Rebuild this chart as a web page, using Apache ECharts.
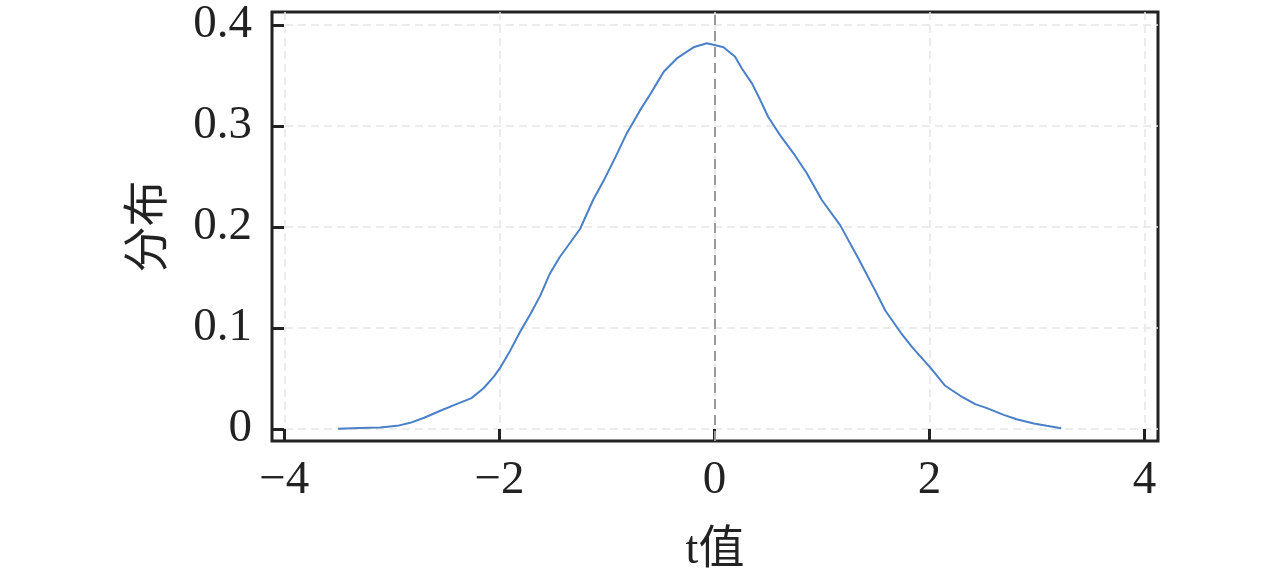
<!DOCTYPE html>
<html>
<head>
<meta charset="utf-8">
<script src="https://cdn.jsdelivr.net/npm/echarts@6/dist/echarts.min.js"></script>
<style>html,body{margin:0;padding:0;background:#fff}#c{width:1280px;height:576px}</style>
</head>
<body>
<div id="c"></div>
<script>
const tValues = [-3.50,-3.30,-3.11,-2.95,-2.83,-2.70,-2.55,-2.40,-2.26,-2.15,-2.05,-1.99,-1.90,-1.81,-1.71,-1.62,-1.53,-1.44,-1.25,-1.13,-1.03,-0.92,-0.815,-0.77,-0.69,-0.60,-0.51,-0.47,-0.35,-0.195,-0.07,-0.01,0.084,0.19,0.255,0.35,0.425,0.50,0.61,0.735,0.86,1.00,1.17,1.34,1.495,1.59,1.73,1.84,2.006,2.146,2.286,2.425,2.534,2.69,2.81,2.97,3.09,3.225];
const density = [0.0002,0.001,0.0013,0.003,0.006,0.011,0.018,0.0245,0.0305,0.040,0.052,0.061,0.0775,0.0957,0.114,0.132,0.154,0.170,0.198,0.2265,0.246,0.2695,0.293,0.301,0.316,0.331,0.347,0.354,0.367,0.378,0.382,0.3805,0.378,0.369,0.357,0.342,0.326,0.309,0.291,0.273,0.253,0.2265,0.2016,0.1686,0.137,0.117,0.0957,0.0808,0.061,0.0427,0.0328,0.0245,0.0206,0.0139,0.0096,0.0053,0.003,0.0007];
const xTicks = [-4,-2,0,2,4];
const yTicks = [0,0.1,0.2,0.3,0.4];
const xName = 't值';
const yName = '分布';

const font = "'Liberation Serif', 'Noto Sans CJK SC', serif";
const chart = echarts.init(document.getElementById('c'), null, {renderer:'canvas'});
const fmtX = v => (v < 0 ? '\u2212' + Math.abs(v) : String(v));
const fmtY = v => (v === 0 ? '0' : v.toFixed(1));
const gridLine = {show:true, lineStyle:{color:'#e6e6e6', width:1.5, type:[8,5]}};
chart.setOption({
  animation:false,
  backgroundColor:'#fff',
  grid:{left:272, right:122, top:12, bottom:135, show:true, borderColor:'#222', borderWidth:3, backgroundColor:'transparent', containLabel:false, outerBoundsMode:'none'},
  xAxis:{
    type:'value', min:-4.115, max:4.125,
    name:xName, nameLocation:'middle', nameGap:87,
    nameTextStyle:{fontFamily:font, fontSize:46, color:'#222'},
    axisLine:{show:false, onZero:false},
    axisTick:{show:true, inside:true, length:12, customValues:xTicks, lineStyle:{color:'#222', width:3}},
    axisLabel:{customValues:xTicks, formatter:fmtX, fontFamily:font, fontSize:47, color:'#222', margin:16},
    splitLine:gridLine
  },
  yAxis:{
    type:'value', min:-0.012, max:0.413,
    name:yName, nameLocation:'middle', nameGap:99, nameRotate:90,
    nameTextStyle:{fontFamily:font, fontSize:46, color:'#222'},
    axisLine:{show:false, onZero:false},
    axisTick:{show:true, inside:true, length:12, customValues:yTicks, lineStyle:{color:'#222', width:3}},
    axisLabel:{customValues:yTicks, formatter:fmtY, fontFamily:font, fontSize:47, color:'#222', margin:20},
    splitLine:gridLine
  },
  series:[{
    type:'line',
    data:tValues.map((t,i)=>[t, density[i]]),
    showSymbol:false,
    lineStyle:{color:'#4a80c8', width:2},
    markLine:{
      silent:true, symbol:['none','none'],
      label:{show:false},
      lineStyle:{color:'#999', width:2, type:[10,6]},
      data:[{xAxis:0}]
    }
  }]
});
</script>
</body>
</html>
